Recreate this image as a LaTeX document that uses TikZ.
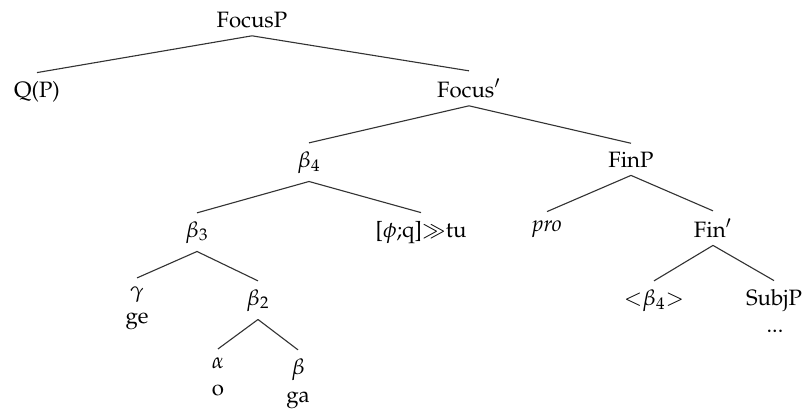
\documentclass[tikz,border=0pt]{standalone}
\usepackage[T1]{fontenc}
\usepackage{mathpazo}
\usetikzlibrary{positioning}
\tikzset{
  every picture/.style={line width=0.5pt},
  cat/.style={anchor=base, inner sep=3.5pt},
  branch/.style={draw=black!80, line width=0.5pt},
}

\begin{document}
\begin{tikzpicture}[x=0.45pt, y=-0.45pt]
  \useasboundingbox (0,0) rectangle (805,410);

  % ---- top of the tree
  \node[cat] (focusp)   at (252,27)  {FocusP};
  \node[cat] (qp)       at (37,97)   {Q(P)};
  \node[cat] (focusbar) at (469,97)  {Focus$'$};
  \node[cat] (beta4)    at (309,167) {$\beta_4$};
  \node[cat] (finp)     at (631,167) {FinP};

  % ---- left branch
  \node[cat] (beta3)    at (197,237) {$\beta_3$};
  \node[cat] (phitu)    at (421,237) {[$\phi$;q]$\gg$tu};
  \node[cat] (gamma)    at (137,297) {$\gamma$};
  \node[cat] (ge)       at (137,323) {ge};
  \node[cat] (beta2)    at (258,305) {$\beta_2$};
  \node[cat] (alpha)    at (218,368) {$\alpha$};
  \node[cat] (o)        at (218,395) {o};
  \node[cat] (beta)     at (298,374) {$\beta$};
  \node[cat] (ga)       at (298,402) {ga};

  % ---- right branch
  \node[cat] (pro)      at (547,231) {\textit{pro}};
  \node[cat] (finbar)   at (713,237) {Fin$'$};
  \node[cat] (trace)    at (654,305) {${<}\beta_4{>}$};
  \node[cat] (subjp)    at (774,305) {SubjP};
  \node[cat] (dots)     at (775,332) {...};

  \foreach \a/\b in {focusp/qp, focusp/focusbar, focusbar/beta4, focusbar/finp,
                     beta4/beta3, beta4/phitu, finp/pro, finp/finbar,
                     beta3/gamma, beta3/beta2, beta2/alpha, beta2/beta,
                     finbar/trace, finbar/subjp}
    \draw[branch] (\a.south) -- (\b.north);
\end{tikzpicture}
\end{document}
